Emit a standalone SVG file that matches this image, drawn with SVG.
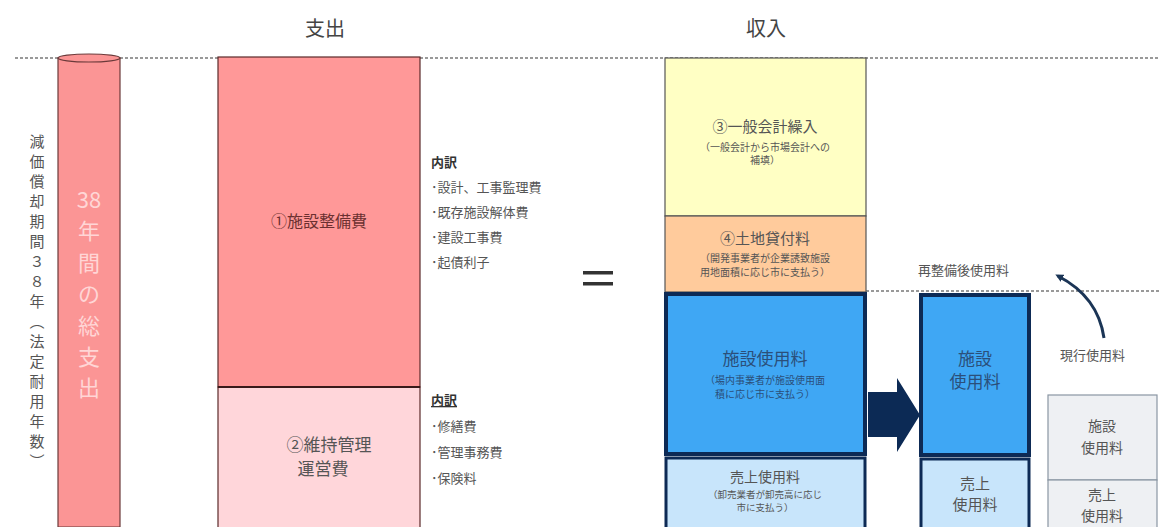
<svg xmlns="http://www.w3.org/2000/svg" width="1172" height="527" viewBox="0 0 1172 527">
<style>
text{font-family:"Noto Sans CJK JP","Noto Sans",sans-serif;fill:#555;}
.t{font-size:20px;text-anchor:middle;fill:#444;}
.m{font-size:13px;}
.mb{font-size:13px;font-weight:bold;fill:#333;}
.c{text-anchor:middle;}
.cy{font-size:22px;text-anchor:middle;fill:#ffd6d6;}
.dash{stroke:#999;stroke-width:2;stroke-dasharray:3 2;fill:none;}
</style>
<defs>
<marker id="ah" markerWidth="8" markerHeight="8" refX="5" refY="4" orient="auto" markerUnits="userSpaceOnUse">
<path d="M0,0 L8,4 L0,8 Z" fill="#1b3556"/>
</marker>
</defs>
<g id="guides">
<line class="dash" x1="15" y1="58" x2="1160" y2="58"/>
<line class="dash" x1="866" y1="291" x2="1160" y2="291"/>
</g>
<g id="titles">
<text class="t" x="325" y="36">支出</text>
<text class="t" x="766" y="36">収入</text>
</g>
<g id="period-label">
<text font-size="15" x="37" y="134" style="writing-mode:vertical-rl;text-orientation:upright;fill:#555" letter-spacing="5">減価償却期間３８年（法定耐用年数）</text>
</g>
<g id="total-cylinder">
<path d="M58,58 L58,527 L120,527 L120,58 Z" fill="#fb9595" stroke="#6b3a3a" stroke-width="1.2"/>
<ellipse cx="89" cy="58" rx="31" ry="4" fill="#fb9595" stroke="#6b3a3a" stroke-width="1.2"/>
<text class="cy" x="89" y="208">38</text>
<text class="cy" x="89" y="239">年</text>
<text class="cy" x="89" y="271">間</text>
<text class="cy" x="89" y="302">の</text>
<text class="cy" x="89" y="334">総</text>
<text class="cy" x="89" y="365">支</text>
<text class="cy" x="89" y="396">出</text>
</g>
<g id="facility-cost">
<rect x="218" y="57" width="202" height="330" fill="#ff9898" stroke="#5a2a2a" stroke-width="1.2"/>
<text class="c" x="319" y="227" font-size="16" style="fill:#6b3030">①施設整備費</text>
</g>
<g id="maintenance-cost">
<rect x="218" y="387" width="202" height="145" fill="#ffd6da" stroke="#5a2a2a" stroke-width="1.2"/>
<line x1="218" y1="387" x2="420" y2="387" stroke="#3a1a1a" stroke-width="2"/>
<text class="c" x="329" y="451" font-size="17">②維持管理</text>
<text class="c" x="323" y="475" font-size="17">運営費</text>
</g>
<g id="breakdown1">
<text class="mb" x="431" y="167">内訳</text>
<text class="m" x="431" y="192">･設計、工事監理費</text>
<text class="m" x="431" y="217">･既存施設解体費</text>
<text class="m" x="431" y="242">･建設工事費</text>
<text class="m" x="431" y="267">･起債利子</text>
</g>
<g id="breakdown2">
<text class="mb" x="431" y="405" text-decoration="underline">内訳</text>
<text class="m" x="431" y="431">･修繕費</text>
<text class="m" x="431" y="457">･管理事務費</text>
<text class="m" x="431" y="483">･保険料</text>
</g>
<g id="equals">
<rect x="583" y="271" width="30" height="3.5" fill="#333"/>
<rect x="583" y="282" width="30" height="3.5" fill="#333"/>
</g>
<g id="general-account">
<rect x="665" y="58" width="201" height="158" fill="#ffffc4" stroke="#555" stroke-width="1.2"/>
<text class="c" x="765" y="132" font-size="15">③一般会計繰入</text>
<text class="c" x="765" y="151" font-size="10">（一般会計から市場会計への</text>
<text class="c" x="765" y="164" font-size="10">補填）</text>
</g>
<g id="land-rent">
<rect x="665" y="216" width="201" height="76" fill="#ffcb9c" stroke="#555" stroke-width="1.2"/>
<text class="c" x="765" y="244" font-size="15">④土地貸付料</text>
<text class="c" x="765" y="262" font-size="10">（開発事業者が企業誘致施設</text>
<text class="c" x="765" y="276" font-size="10">用地面積に応じ市に支払う）</text>
</g>
<g id="facility-fee">
<rect x="666" y="294" width="199" height="160" fill="#3fa7f4" stroke="#0d2a55" stroke-width="4"/>
<text class="c" x="765" y="365" font-size="17" style="fill:#2b4f7a">施設使用料</text>
<text class="c" x="765" y="384" font-size="10" style="fill:#2b4f7a">（場内事業者が施設使用面</text>
<text class="c" x="765" y="398" font-size="10" style="fill:#2b4f7a">積に応じ市に支払う）</text>
</g>
<g id="sales-fee">
<rect x="666" y="458" width="199" height="74" fill="#c8e5fb" stroke="#0d2a55" stroke-width="3"/>
<text class="c" x="765" y="482" font-size="14">売上使用料</text>
<text class="c" x="765" y="498" font-size="9.5">（卸売業者が卸売高に応じ</text>
<text class="c" x="765" y="511" font-size="9.5">市に支払う）</text>
</g>
<g id="connectors">
<path d="M868,392 L897,392 L897,378 L920,415 L897,452 L897,437 L868,437 Z" fill="#0c2a55"/>
<path d="M1104,338 C1100,310 1085,290 1058,276" fill="none" stroke="#1b3556" stroke-width="3" marker-end="url(#ah)"/>
</g>
<g id="new-facility-fee">
<rect x="921" y="295" width="108" height="160" fill="#3fa7f4" stroke="#0d2a55" stroke-width="4"/>
<text class="c" x="975" y="365" font-size="17" style="fill:#2b4f7a">施設</text>
<text class="c" x="975" y="388" font-size="17" style="fill:#2b4f7a">使用料</text>
</g>
<g id="new-sales-fee">
<rect x="921" y="459" width="108" height="73" fill="#c8e5fb" stroke="#0d2a55" stroke-width="3"/>
<text class="c" x="975" y="489" font-size="15">売上</text>
<text class="c" x="975" y="510" font-size="15">使用料</text>
</g>
<g id="label-after">
<text class="m" x="918" y="275">再整備後使用料</text>
</g>
<g id="label-current">
<text class="m" x="1060" y="360">現行使用料</text>
</g>
<g id="current-facility-fee">
<rect x="1048" y="395" width="109" height="85" fill="#eef0f3" stroke="#8a96a3" stroke-width="1.2"/>
<text class="c" x="1102" y="431" font-size="14">施設</text>
<text class="c" x="1102" y="453" font-size="14">使用料</text>
</g>
<g id="current-sales-fee">
<rect x="1048" y="480" width="109" height="52" fill="#eef0f3" stroke="#8a96a3" stroke-width="1.2"/>
<text class="c" x="1102" y="500" font-size="14">売上</text>
<text class="c" x="1102" y="521" font-size="14">使用料</text>
</g>
</svg>
